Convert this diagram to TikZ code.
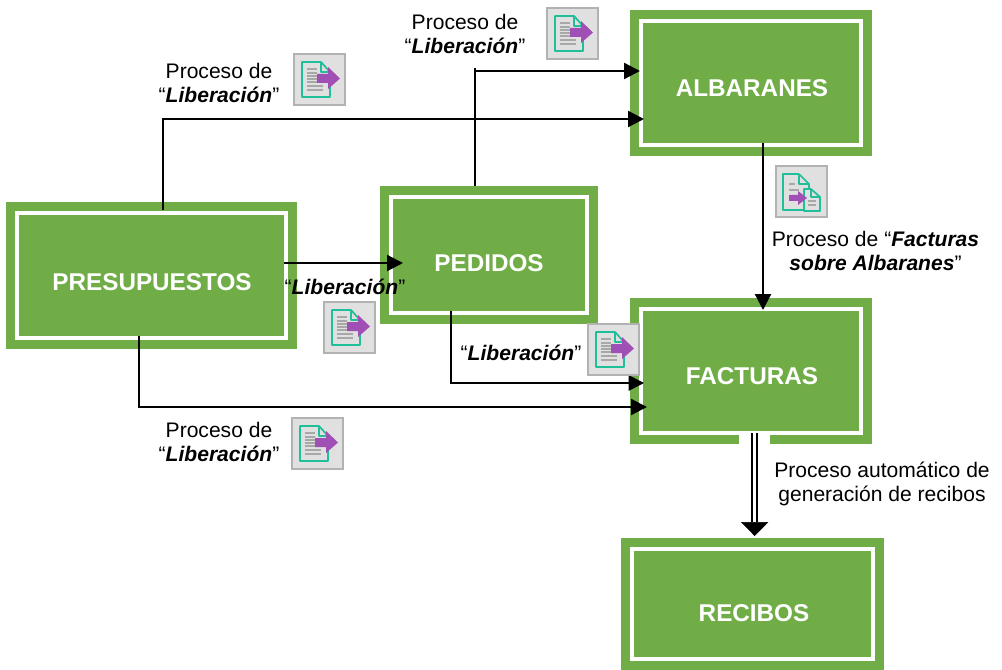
\documentclass[tikz,border=0pt]{standalone}
\usepackage{fontspec}
\setmainfont{Liberation Sans}
\usetikzlibrary{arrows.meta}
\definecolor{boxgreen}{HTML}{70AD47}
\definecolor{icongray}{HTML}{B2B2B2}
\definecolor{iconfill}{HTML}{E0E0E0}
\definecolor{iconteal}{HTML}{1FBF9A}
\definecolor{iconpurple}{HTML}{A04FB5}
\definecolor{iconline}{HTML}{A8A8A8}
\newcommand{\greenbox}[5]{%
  \node[boxshape,minimum width={(#4-#2)*0.75pt},minimum height={(#5-#3)*0.75pt}] (#1) at ({(#2+#4)/2},{(#3+#5)/2}) {};
  \draw[white,line width=3pt] ([shift={(11,11)}]#1.north west) rectangle ([shift={(-11,-11)}]#1.south east);
}
\tikzset{
  boxshape/.style={fill=boxgreen,inner sep=0pt,outer sep=0pt,rectangle},
  boxtext/.style={text=white,font=\fontsize{18.2}{22}\selectfont\bfseries,inner sep=0pt},
  lab/.style={font=\fontsize{15.8}{18.2}\selectfont,align=center,inner sep=0pt},
  conn/.style={line width=1.7pt,line join=miter,-{Triangle[width=12pt,length=12pt]}},
  connthin/.style={line width=1.3pt,line join=miter,-{Triangle[width=11.5pt,length=11.5pt]}},
  framebox/.style={draw=icongray,fill=iconfill,line width=1.5pt},
  pics/docicon/.style={code={
    \draw[framebox] (1,1) rectangle (52,52);
    \draw[iconteal,line width=1.3pt,line join=round] (28,9) -- (9,9) -- (9,44) -- (37,44) -- (37,19) -- (28,9) -- (28,19) -- (37,19);
    \foreach \yy in {16,20,23,26,29} \draw[iconline,line width=1.1pt] (14,\yy) -- (24,\yy);
    \draw[iconline,line width=1.1pt] (14,33) -- (30,33) (14,37) -- (30,37);
    \fill[iconpurple] (24,21) -- (35,21) -- (35,14) -- (47,25.5) -- (35,36) -- (35,30) -- (24,30) -- cycle;
  }},
  pics/docdouble/.style={code={
    \draw[framebox] (1,1) rectangle (52,52);
    \draw[iconteal,line width=1.3pt,line join=round] (24,9) -- (8,9) -- (8,45) -- (30,45);
    \draw[iconteal,line width=1.3pt,line join=round] (24,9) -- (34,19) -- (34,23);
    \draw[iconteal,line width=1.3pt,line join=round] (24,9) -- (24,19) -- (34,19);
    \draw[iconline,line width=1.1pt] (14,19) -- (20,19) (14,25) -- (24,25);
    \draw[iconteal,line width=1.3pt,fill=iconfill,line join=round] (36,24) -- (29,24) -- (29,46) -- (45,46) -- (45,32) -- (36,24) -- (36,32) -- (45,32);
    \draw[iconline,line width=1.1pt] (33,36) -- (41,36) (33,40) -- (41,40);
    \fill[iconpurple] (14,30) -- (23,30) -- (23,26) -- (32,33) -- (23,40) -- (23,36) -- (14,36) -- cycle;
  }}
}
\begin{document}
\begin{tikzpicture}[x=0.75pt,y=-0.75pt]
\useasboundingbox (0,0) rectangle (1002,670);
\greenbox{pres}{6}{202}{297}{349}
\greenbox{ped}{380}{186}{598}{324}
\greenbox{alb}{630}{10}{872}{156}
\greenbox{fac}{630}{298}{872}{444}
\greenbox{rec}{621}{538}{884}{670}
\node[boxtext] (prest) at (152,282) {PRESUPUESTOS};
\node[boxtext] (pedt) at (489,263) {PEDIDOS};
\node[boxtext] (albt) at (752,88) {ALBARANES};
\node[boxtext] (fact) at (752,376) {FACTURAS};
\node[boxtext] (rect) at (754,613) {RECIBOS};
% named bends
\coordinate (b1) at (163,119);
\coordinate (b2) at (475,71);
\coordinate (b3) at (451,383);
\coordinate (b4) at (139,407);
\coordinate (s1) at (284,263);
\coordinate (e1) at (403,263);
\coordinate (e2) at (644,0);
\coordinate (e3) at (640,0);
\coordinate (e4) at (644,0);
\coordinate (e5) at (647,0);
\coordinate (x3) at (763,0);
\coordinate (g2) at (754.7,522);
\coordinate (t1) at (754.7,536);
\draw[conn] ([yshift=-6pt]pres.north -| b1) -- (b1) -- (b1 -| e2);
\draw[conn] (s1) -- (e1);
\draw[conn,-] (ped.north -| b2) -- ([yshift=2pt]b2);
\draw[conn] (b2) -- (b2 -| e3);
\draw[connthin] ([yshift=10pt]ped.south -| b3) -- (b3) -- (b3 -| e4);
\draw[conn] ([yshift=10pt]pres.south -| b4) -- (b4) -- (b4 -| e5);
\draw[conn] ([yshift=10pt]alb.south -| x3) -- (763,310);
% double arrow out of FACTURAS
\node[fill=white,minimum width=23.25pt,minimum height=10pt,inner sep=0pt] (gap) at (754.5,438) {};
\draw[black,line width=5.4pt] ([yshift=-1.5pt]gap.north -| g2) -- (g2);
\draw[white,line width=2pt] ([yshift=-1.5pt]gap.north -| g2) -- (g2);
\draw[line width=.5pt,-{Triangle[width=20.5pt,length=10.5pt]}] (g2) -- (t1);
% labels
\node[lab] (l1) at (219,83) {Proceso de\\“\textbf{\textit{Liberación}}”};
\node[lab] (l2) at (465,34) {Proceso de\\“\textbf{\textit{Liberación}}”};
\node[lab] (l3) at (345,287) {“\textbf{\textit{Liberación}}”};
\node[lab] (l4) at (521,353) {“\textbf{\textit{Liberación}}”};
\node[lab] (l5) at (219,442) {Proceso de\\“\textbf{\textit{Liberación}}”};
\node[lab] (l6) at (875.5,251) {Proceso de “\textbf{\textit{Facturas}}\\\textbf{\textit{sobre Albaranes}}”};
\node[lab] (l7) at (882,484) {Proceso automático de\\generación de recibos};
% icons
\pic at (293,53) {docicon};
\pic at (546,7) {docicon};
\pic at (323,301) {docicon};
\pic at (587,323) {docicon};
\pic at (291,417) {docicon};
\pic at (775,165) {docdouble};
\end{tikzpicture}
\end{document}
